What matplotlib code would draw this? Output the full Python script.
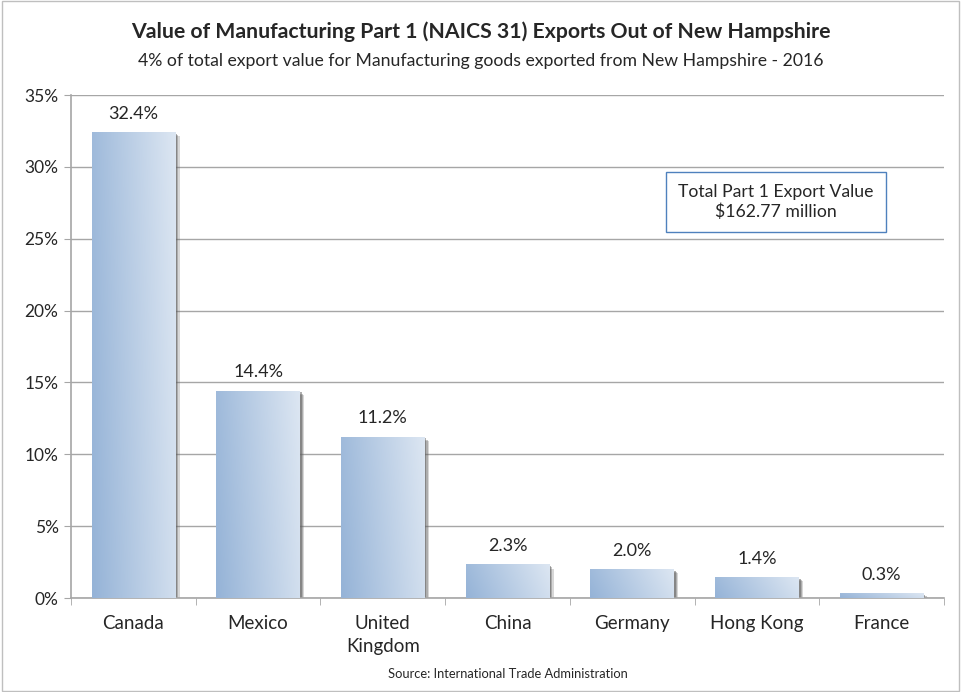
import numpy as np
import matplotlib.pyplot as plt
from matplotlib.patches import Rectangle
from matplotlib.colors import LinearSegmentedColormap

plt.rcParams['font.family'] = ['Lato', 'DejaVu Sans']

countries = ["Canada", "Mexico", "United\nKingdom", "China", "Germany", "Hong Kong", "France"]
shares = [32.4, 14.4, 11.2, 2.3, 2.0, 1.4, 0.3]
labels = ["32.4%", "14.4%", "11.2%", "2.3%", "2.0%", "1.4%", "0.3%"]
yticks = [0, 5, 10, 15, 20, 25, 30, 35]

fig = plt.figure(figsize=(9.61, 6.92), dpi=100)
ax = fig.add_axes([0.0739, 0.1358, 0.9084, 0.7269])

# light border around the whole chart
fig.patches.append(Rectangle((0.002, 0.002), 0.996, 0.996, transform=fig.transFigure,
                             fill=False, edgecolor="#bfbfbf", linewidth=1))

cmap = LinearSegmentedColormap.from_list("bar", ["#95b3d7", "#dce6f2"])
gx, gy = np.meshgrid(np.linspace(0, 1, 64), np.linspace(0, 1, 64))
grad = 0.85 * gx + 0.15 * (1 - gy)

width = 0.67
x = np.arange(len(countries))
for i, v in enumerate(shares):
    x0 = i - width / 2
    # soft shadow
    for k, a in enumerate([0.25, 0.35, 0.5]):
        off = 0.035 - k * 0.01
        ax.add_patch(Rectangle((x0 + off, -0.25 + k * 0.08), width, v, facecolor="#606060",
                               edgecolor="none", alpha=a, zorder=2))
    ax.imshow(grad, cmap=cmap, extent=[x0, x0 + width, 0, v], origin="upper",
              aspect="auto", zorder=3, interpolation="bilinear")
    ax.text(i, v + 0.75, labels[i], ha="center", va="bottom", fontsize=13, color="#262626")

ax.set_xlim(-0.5, len(countries) - 0.5)
ax.set_ylim(0, 35)
ax.set_yticks(yticks)
ax.set_yticklabels([f"{t}%" for t in yticks], fontsize=12.5, color="#262626")
ax.set_xticks(x)
ax.set_xticklabels(countries, fontsize=13.5, color="#262626", linespacing=1.45)
ax.set_xticks(np.arange(-0.5, len(countries)), minor=True)
ax.tick_params(axis="x", which="major", length=0, pad=12)
ax.tick_params(axis="x", which="minor", length=5, color="#a6a6a6")
ax.tick_params(axis="y", length=5, color="#a6a6a6", pad=4)
ax.grid(axis="y", color="#a6a6a6", linewidth=1, zorder=0)
ax.set_axisbelow(True)
for s in ["top", "right"]:
    ax.spines[s].set_visible(False)
for s in ["left", "bottom"]:
    ax.spines[s].set_color("#a6a6a6")
    ax.spines[s].set_linewidth(1.2)

fig.text(0.5, 0.954, "Value of Manufacturing Part 1 (NAICS 31) Exports Out of New Hampshire",
         ha="center", va="center", fontsize=15.3, fontweight="bold", color="#262626")
fig.text(0.5, 0.912, "4% of total export value for Manufacturing goods exported from New Hampshire - 2016",
         ha="center", va="center", fontsize=12.7, color="#262626")
fig.text(0.528, 0.026, "Source: International Trade Administration",
         ha="center", va="center", fontsize=9.3, color="#262626")
fig.text(0.8075, 0.708, "Total Part 1 Export Value\n$162.77 million", ha="center", va="center",
         fontsize=12.7, color="#262626", linespacing=1.25,
         bbox=dict(boxstyle="square,pad=0.7", facecolor="white", edgecolor="#4f81bd", linewidth=1))

fig.savefig("out.png", dpi=100)
